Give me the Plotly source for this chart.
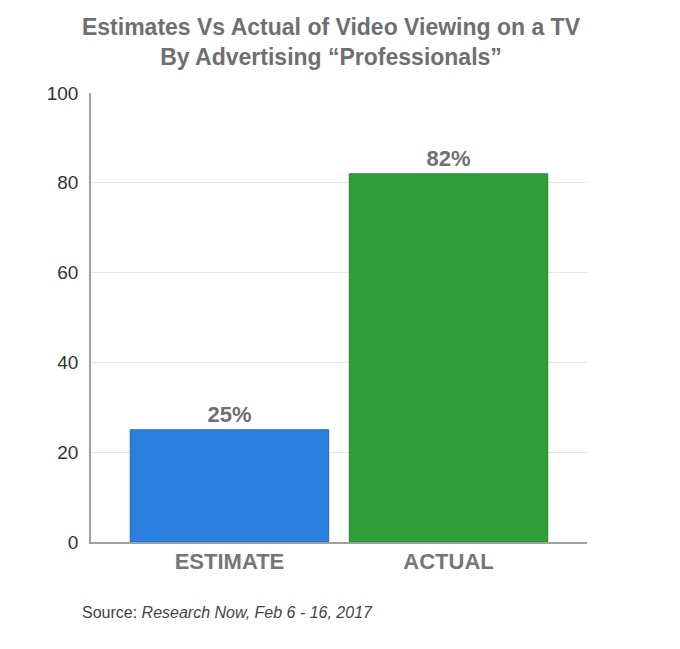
import plotly.graph_objects as go

categories = ["ESTIMATE", "ACTUAL"]
values = [25, 82]
bar_colors = ["#2b7fdf", "#2f9e38"]
line_colors = ["#1c6bcc", "#1f8a2c"]
y_ticks = [0, 20, 40, 60, 80, 100]

title_text = "Estimates Vs Actual of Video Viewing on a TV<br>By Advertising \u201cProfessionals\u201d"
source_text = "Source: <i>Research Now, Feb 6 - 16, 2017</i>"

FONT = "Liberation Sans, Arial, Helvetica, sans-serif"

fig = go.Figure()
fig.add_trace(go.Bar(
    x=categories,
    y=values,
    marker=dict(color=bar_colors, line=dict(color=line_colors, width=1)),
    text=[f"{v}%" for v in values],
    textposition="outside",
    textfont=dict(family=FONT, size=22, color="#707070", weight="bold"),
    cliponaxis=False,
    hoverinfo="skip",
))

fig.update_layout(
    width=680,
    height=649,
    margin=dict(l=83, r=101, t=85, b=115),
    paper_bgcolor="white",
    plot_bgcolor="white",
    showlegend=False,
    bargap=0.094,
    title=dict(
        text=title_text,
        x=(331 - 8 - 83) / 496,
        xanchor="center",
        xref="paper",
        y=1 - 27 / 649,
        yanchor="top",
        yref="container",
        font=dict(family=FONT, size=23, color="#6f6f6f", weight="bold"),
    ),
    xaxis=dict(
        type="category",
        range=[-0.632, 1.632],
        showline=True,
        linecolor="#a0a0a0",
        linewidth=1.5,
        showgrid=False,
        ticks="",
        tickfont=dict(family=FONT, size=22, color="#767676", weight="bold"),
        ticklabelstandoff=-1,
    ),
    yaxis=dict(
        range=[0, 100],
        tickvals=y_ticks,
        showline=True,
        linecolor="#a0a0a0",
        linewidth=1.5,
        showgrid=True,
        gridcolor="#e6e6e6",
        gridwidth=1,
        zeroline=False,
        ticks="",
        tickfont=dict(family=FONT, size=19, color="#333333"),
        ticklabelstandoff=7,
    ),
    annotations=[
        dict(
            text=source_text,
            xref="paper",
            yref="paper",
            x=(72 - 83) / 496,
            y=(534 - 604) / 449,
            xanchor="left",
            yanchor="middle",
            showarrow=False,
            font=dict(family=FONT, size=16, color="#444444"),
        )
    ],
)

fig.write_html("out.html")
